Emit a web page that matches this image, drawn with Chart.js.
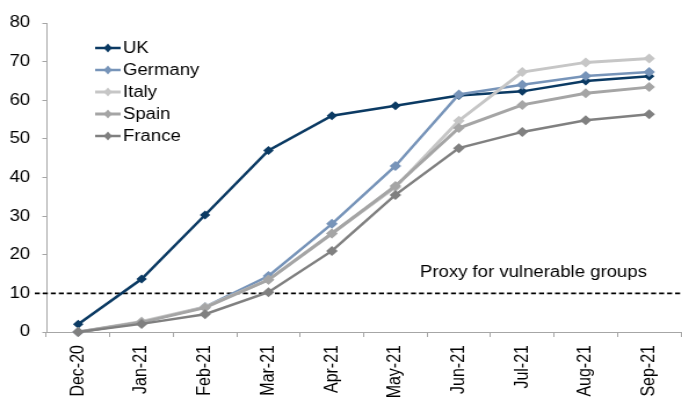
<!DOCTYPE html>
<html>
<head>
<meta charset="utf-8">
<script src="https://cdn.jsdelivr.net/npm/chart.js@4.4.1/dist/chart.umd.min.js"></script>
<style>
  html, body { margin: 0; padding: 0; background: #fff; overflow: hidden; }
  /* the reference is a little stretched sideways, so stretch the whole chart */
  #wrap { width: 592px; height: 401px; transform: scaleX(1.16); transform-origin: 0 0; }
</style>
</head>
<body>
<div id="wrap"><canvas id="chart" width="592" height="401"></canvas></div>
<script>
// Data
const months = ['Dec-20', 'Jan-21', 'Feb-21', 'Mar-21', 'Apr-21', 'May-21', 'Jun-21', 'Jul-21', 'Aug-21', 'Sep-21'];
const uk = [2, 13.7, 30.3, 47, 56, 58.6, 61.2, 62.3, 65, 66.2];
const germany = [0, 2.5, 6.5, 14.5, 28, 43, 61.5, 64, 66.3, 67.3];
const italy = [0, 2.7, 6.5, 13.5, 25.5, 37.5, 54.7, 67.3, 69.8, 70.8];
const spain = [0, 2.5, 6.3, 13.5, 25.5, 37.8, 52.8, 58.8, 61.8, 63.4];
const france = [0, 2.1, 4.6, 10.3, 21, 35.5, 47.6, 51.8, 54.8, 56.4];
const yTicks = [0, 10, 20, 30, 40, 50, 60, 70, 80];
const proxyLevel = 10;
const proxyText = 'Proxy for vulnerable groups';

const font = { family: "'Liberation Sans', Arial, sans-serif", size: 16 };
const axisGrey = '#a6a6a6';

const series = [
    { label: 'UK', data: uk, color: '#0b3a63', width: 2.5, radius: 4.5 },
    { label: 'Germany', data: germany, color: '#7794b9', width: 2.5, radius: 5 },
    { label: 'Italy', data: italy, color: '#c6c6c6', width: 3, radius: 5 },
    { label: 'Spain', data: spain, color: '#a5a5a5', width: 3, radius: 5 },
    { label: 'France', data: france, color: '#808080', width: 2.5, radius: 5 }
];

// Dashed threshold line and its label
const proxyLine = {
    id: 'proxyLine',
    beforeDatasetsDraw(chart) {
        const ctx = chart.ctx;
        const y = chart.scales.y.getPixelForValue(proxyLevel);
        ctx.save();
        ctx.strokeStyle = '#000';
        ctx.lineWidth = 1.6;
        ctx.setLineDash([4.3, 2.6]);
        ctx.beginPath();
        ctx.moveTo(30, y);
        ctx.lineTo(chart.width, y);
        ctx.stroke();
        ctx.setLineDash([]);
        ctx.fillStyle = '#000';
        ctx.font = `${font.size}px ${font.family}`;
        ctx.textBaseline = 'middle';
        ctx.fillText(proxyText, 362, y - 21);
        ctx.restore();
    }
};

// Legend with line + diamond, top left
const lineLegend = {
    id: 'lineLegend',
    afterDraw(chart) {
        const ctx = chart.ctx;
        ctx.save();
        ctx.font = `${font.size}px ${font.family}`;
        ctx.textBaseline = 'middle';
        chart.data.datasets.forEach((ds, i) => {
            const y = 48 + i * 22;
            ctx.strokeStyle = ds.borderColor;
            ctx.lineWidth = ds.borderWidth;
            ctx.beginPath();
            ctx.moveTo(82, y);
            ctx.lineTo(104, y);
            ctx.stroke();
            ctx.fillStyle = ds.borderColor;
            ctx.beginPath();
            ctx.moveTo(93, y - 4.5);
            ctx.lineTo(96.5, y);
            ctx.lineTo(93, y + 4.5);
            ctx.lineTo(89.5, y);
            ctx.closePath();
            ctx.fill();
            ctx.fillStyle = '#000';
            ctx.fillText(ds.label, 106, y + 1);
        });
        ctx.restore();
    }
};

new Chart(document.getElementById('chart'), {
    type: 'line',
    data: {
        labels: months,
        datasets: series.map((s, i) => ({
            label: s.label,
            data: s.data,
            borderColor: s.color,
            backgroundColor: s.color,
            borderWidth: s.width,
            pointStyle: 'rectRot',
            pointRadius: s.radius,
            pointBorderWidth: 0,
            pointBackgroundColor: s.color,
            tension: 0,
            clip: false,
            order: series.length - i
        }))
    },
    options: {
        responsive: false,
        animation: false,
        devicePixelRatio: 1,
        layout: { padding: { top: 23, left: 0, right: 0, bottom: 0 } },
        plugins: {
            legend: { display: false },
            tooltip: { enabled: false }
        },
        scales: {
            x: {
                offset: true,
                grid: { offset: true, drawOnChartArea: false, tickLength: 5, color: axisGrey },
                border: { color: axisGrey },
                ticks: { autoSkip: false, minRotation: 90, maxRotation: 90, padding: 8, color: '#000', font: font },
                afterFit: s => { s.height = 69; }
            },
            y: {
                min: yTicks[0],
                max: yTicks[yTicks.length - 1],
                ticks: { stepSize: 10, padding: 10.5, color: '#000', font: font },
                grid: { drawOnChartArea: false, tickLength: 3.5, color: axisGrey },
                border: { color: axisGrey },
                afterFit: s => { s.width = 40; }
            }
        }
    },
    plugins: [proxyLine, lineLegend]
});
</script>
</body>
</html>
